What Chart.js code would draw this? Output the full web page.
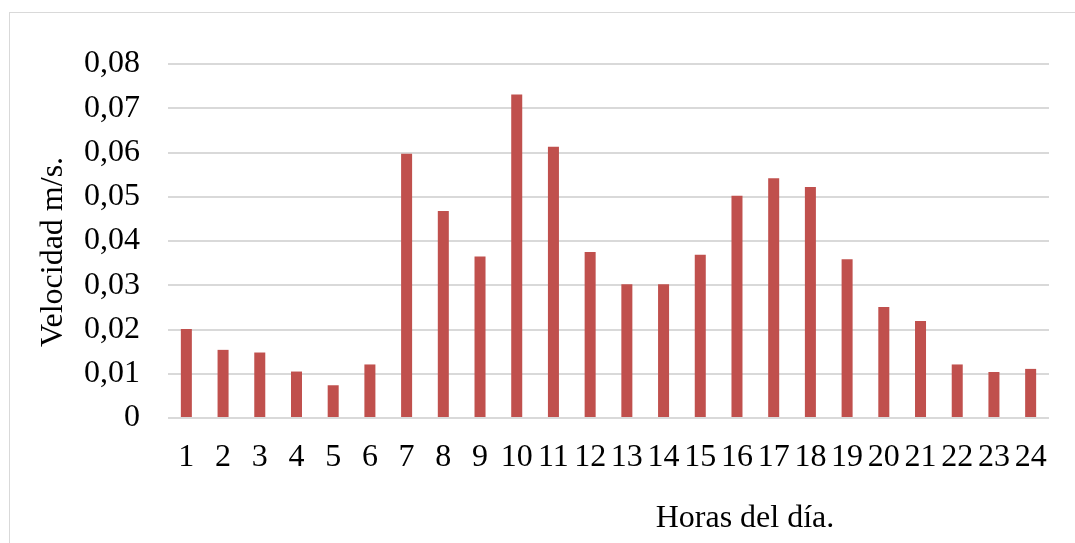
<!DOCTYPE html>
<html>
<head>
<meta charset="utf-8">
<script src="https://cdn.jsdelivr.net/npm/chart.js@4.4.0/dist/chart.umd.min.js"></script>
<style>
  body { margin: 0; background: #fff; }
  #wrap { position: relative; width: 1075px; height: 543px; overflow: hidden; }
  #frame { position: absolute; left: 9px; top: 12px; width: 1100px; height: 600px;
           border-left: 1px solid #d9d9d9; border-top: 1px solid #d9d9d9; }
  canvas { position: absolute; left: 0; top: 0; }
</style>
</head>
<body>
<div id="wrap">
  <div id="frame"></div>
  <canvas id="chart" width="1075" height="543"></canvas>
</div>
<script>
// Hours of the day
const hours = ['1','2','3','4','5','6','7','8','9','10','11','12',
               '13','14','15','16','17','18','19','20','21','22','23','24'];

// Velocity (m/s)
const velocity = [0.0201, 0.0154, 0.0148, 0.0105, 0.0074, 0.0121,
                  0.0597, 0.0468, 0.0365, 0.0731, 0.0613, 0.0375,
                  0.0302, 0.0302, 0.0369, 0.0502, 0.0542, 0.0522,
                  0.0359, 0.0251, 0.0219, 0.0121, 0.0104, 0.0111];

const yTickLabels = ['0','0,01','0,02','0,03','0,04','0,05','0,06','0,07','0,08'];

const xTitle = 'Horas del día.';
const yTitle = 'Velocidad m/s.';

const FONT = '"Liberation Serif", "Times New Roman", serif';
const FONT_SIZE = 32;

// draws the two axis titles where the original has them
const axisTitles = {
  id: 'axisTitles',
  afterDraw(chart) {
    const ctx = chart.ctx;
    ctx.save();
    ctx.fillStyle = '#000';
    ctx.font = FONT_SIZE + 'px ' + FONT;
    ctx.textAlign = 'center';
    ctx.textBaseline = 'alphabetic';
    ctx.fillText(xTitle, 745, 527);
    ctx.translate(62, 252);
    ctx.rotate(-Math.PI / 2);
    ctx.fillText(yTitle, 0, 0);
    ctx.restore();
  }
};

const ctx = document.getElementById('chart').getContext('2d');
new Chart(ctx, {
  type: 'bar',
  data: {
    labels: hours,
    datasets: [{
      data: velocity,
      backgroundColor: '#c0504d',
      barPercentage: 0.3,
      categoryPercentage: 1.0
    }]
  },
  plugins: [axisTitles],
  options: {
    responsive: false,
    animation: false,
    layout: { padding: { top: 64, right: 26, left: 0, bottom: 0 } },
    plugins: {
      legend: { display: false },
      tooltip: { enabled: false }
    },
    scales: {
      x: {
        grid: { display: false, drawTicks: false },
        border: { display: false },
        ticks: {
          color: '#000',
          font: { family: FONT, size: FONT_SIZE },
          padding: 20,
          maxRotation: 0,
          autoSkip: false
        },
        afterFit: s => { s.height = 125; }
      },
      y: {
        min: 0,
        max: 0.08,
        grid: { color: '#d9d9d9', lineWidth: 2, drawTicks: false },
        border: { display: false },
        ticks: {
          stepSize: 0.01,
          color: '#000',
          font: { family: FONT, size: FONT_SIZE },
          padding: 28,
          callback: (v, i) => yTickLabels[i]
        },
        afterFit: s => { s.width = 168; }
      }
    }
  }
});
</script>
</body>
</html>
